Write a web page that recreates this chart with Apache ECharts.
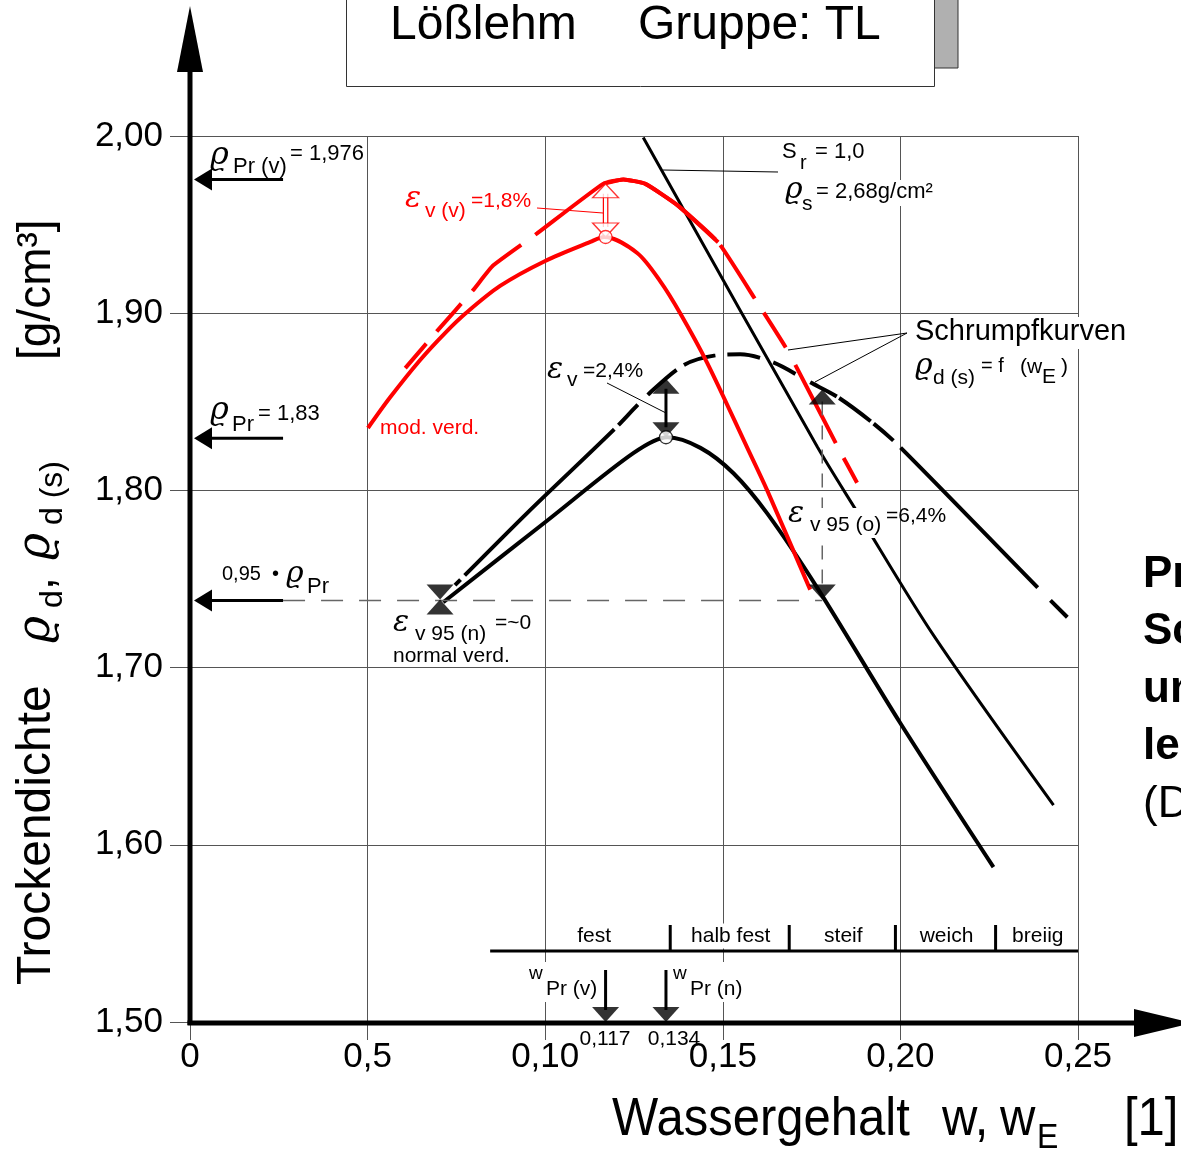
<!DOCTYPE html>
<html><head><meta charset="utf-8">
<script src="https://cdn.jsdelivr.net/npm/echarts@6/dist/echarts.min.js"></script>
<style>html,body{margin:0;padding:0;background:#fff}#c{width:1181px;height:1155px}</style>
</head><body><div id="c"></div>
<script>
// ---------------- data ----------------
const xTickValues = [0, 0.05, 0.10, 0.15, 0.20, 0.25];
const xTickLabels = ['0', '0,5', '0,10', '0,15', '0,20', '0,25'];
const yTickValues = [1.5, 1.6, 1.7, 1.8, 1.9, 2.0];
const yTickLabels = ['1,50', '1,60', '1,70', '1,80', '1,90', '2,00'];

// modified Proctor curve (red, solid)
const modW   = [0.0501, 0.0563, 0.0648, 0.0718, 0.0777, 0.0873, 0.1000, 0.1127, 0.1166, 0.1259, 0.1324, 0.1380, 0.1456, 0.1569, 0.1625, 0.1746];
const modRho = [1.8352, 1.8524, 1.8736, 1.8888, 1.9001, 1.9154, 1.9295, 1.9402, 1.943, 1.934, 1.918, 1.900, 1.872, 1.824, 1.800, 1.744];
// shrinkage curve of modified compaction (red, dashed)
const modShrW   = [0.0606, 0.0696, 0.0797, 0.0854, 0.0977, 0.1163, 0.1220, 0.1282, 0.1372, 0.1487, 0.1597, 0.1685, 0.1825, 0.1887];
const modShrRho = [1.869, 1.890, 1.913, 1.927, 1.945, 1.973, 1.9755, 1.973, 1.961, 1.940, 1.906, 1.878, 1.824, 1.801];
const modShrSolidFrom = 5, modShrSolidTo = 9;
// normal Proctor curve (black, solid)
const norW   = [0.0713, 0.1006, 0.1248, 0.1344, 0.1437, 0.1530, 0.1625, 0.1766, 0.2000, 0.2262];
const norRho = [1.7369, 1.783, 1.821, 1.830, 1.824, 1.8097, 1.787, 1.745, 1.6686, 1.5874];
// shrinkage curve of normal compaction (black, dashed)
const norShrW   = [0.0746, 0.0949, 0.1192, 0.1287, 0.1389, 0.1479, 0.1549, 0.1642, 0.1746, 0.1825, 0.1924, 0.2000, 0.2386, 0.2470];
const norShrRho = [1.7465, 1.7872, 1.834, 1.8536, 1.8706, 1.8762, 1.8768, 1.8722, 1.861, 1.8525, 1.8378, 1.8243, 1.7453, 1.7284];
// saturation line Sr = 1,0
const satW   = [0.1276, 0.1766, 0.1879, 0.2093, 0.2431];
const satRho = [1.9992, 1.8246, 1.7876, 1.7183, 1.6224];

// key values
const rhoPrV = 1.976, rhoPrN = 1.83, rhoModPeak = 1.943;
const wPrV = 0.117, wPrN = 0.134;
const rho95 = 1.7385;              // 0,95 * rhoPr
const wBowtie = 0.0704;
const wEpsO = 0.178, rhoEpsOTop = 1.857;
const rhoShrAtPrV = 1.973, rhoShrAtPrN = 1.863;
const arrowTailW = 0.0262;
const consLimits = [0.0845, 0.1352, 0.1687, 0.1986, 0.2268, 0.25];
const consNames = ['fest', 'halb fest', 'steif', 'weich', 'breiig'];

// ---------------- chart ----------------
const F = "'Liberation Sans', Arial, sans-serif";
const G = "'DejaVu Serif', serif";
const chart = echarts.init(document.getElementById('c'), null, {renderer: 'canvas'});
const pts = (ws, rs) => ws.map((w, i) => [w, rs[i]]);
const lab = (vals, labels) => v => { const i = vals.findIndex(t => Math.abs(t - v) < 1e-6); return i < 0 ? '' : labels[i]; };

const filledTri = (w, r, up) => ({value: [w, r], symbol: 'triangle', symbolSize: [27, 15], symbolRotate: up ? 0 : 180,
  symbolOffset: [0, up ? 7.5 : -7.5], itemStyle: {color: '#000'}});
const openTri = (w, r, up) => ({value: [w, r], symbol: 'triangle', symbolSize: [26, 14], symbolRotate: up ? 0 : 180,
  symbolOffset: [0, up ? 7 : -7], itemStyle: {color: '#fff', borderColor: '#f00', borderWidth: 1.3}});

const blackDash = [8, 6, 209, 6, 28, 14, 38, 9, 33, 12, 33, 14, 25, 17, 30, 3, 39, 4, 26, 10, 196, 18, 30, 40];
const redDash = [32, 16, 37, 17, 68, 17, 218, 8, 63, 17, 41, 20, 88, 17, 28, 40];

const option = {
  animation: false,
  backgroundColor: '#fff',
  grid: {left: 190, right: 103, top: 136, bottom: 133, containLabel: false},
  xAxis: {type: 'value', min: 0, max: 0.25, interval: 0.05,
    axisLine: {show: false},
    axisTick: {show: true, length: 18, lineStyle: {color: '#555', width: 1}},
    splitLine: {show: true, lineStyle: {color: '#555', width: 1}},
    axisLabel: {margin: 18, fontSize: 35, fontFamily: F, color: '#000', showMinLabel: true, showMaxLabel: true,
      formatter: lab(xTickValues, xTickLabels)}},
  yAxis: {type: 'value', min: 1.5, max: 2.0, interval: 0.1,
    axisLine: {show: false},
    axisTick: {show: true, length: 20, lineStyle: {color: '#555', width: 1}},
    splitLine: {show: true, lineStyle: {color: '#555', width: 1}},
    axisLabel: {margin: 27, fontSize: 35, fontFamily: F, color: '#000', showMinLabel: true, showMaxLabel: true,
      formatter: lab(yTickValues, yTickLabels)}},
  series: [
    {name: 'Sr=1,0', type: 'line', data: pts(satW, satRho), smooth: 0.3, symbol: 'none',
      lineStyle: {color: '#000', width: 3}, z: 3},
    {name: 'Schrumpfkurve normal', type: 'line', data: pts(norShrW, norShrRho), smooth: 0.3, symbol: 'none',
      lineStyle: {color: '#000', width: 4, type: blackDash, cap: 'butt'}, z: 3},
    {name: 'Proctor normal', type: 'line', data: pts(norW, norRho), smooth: 0.3, symbol: 'none',
      lineStyle: {color: '#000', width: 4}, z: 3},
    {name: 'Schrumpfkurve mod.', type: 'line', data: pts(modShrW, modShrRho), smooth: 0.15, symbol: 'none',
      lineStyle: {color: '#ff0000', width: 4, type: redDash, cap: 'butt'}, z: 4},
    {name: 'Schrumpfkurve mod. (solid)', type: 'line',
      data: pts(modShrW, modShrRho).slice(modShrSolidFrom, modShrSolidTo + 1), smooth: 0.15, symbol: 'none',
      lineStyle: {color: '#ff0000', width: 4}, z: 4},
    {name: 'Proctor mod.', type: 'line', data: pts(modW, modRho), smooth: 0.3, symbol: 'none',
      lineStyle: {color: '#ff0000', width: 4}, z: 4},
    {name: 'markers', type: 'scatter', z: 8, data: [
      openTri(wPrV, rhoShrAtPrV, true), openTri(wPrV, rhoModPeak, false),
      {value: [wPrV, rhoModPeak], symbol: 'circle', symbolSize: 13, itemStyle: {color: '#fff', borderColor: '#f00', borderWidth: 1.3}},
      filledTri(wPrN, rhoShrAtPrN, true), filledTri(wPrN, rhoPrN, false),
      {value: [wPrN, rhoPrN], symbol: 'circle', symbolSize: 13, itemStyle: {color: '#fff', borderColor: '#000', borderWidth: 1.3}},
      filledTri(wEpsO, rhoEpsOTop, true), filledTri(wEpsO, rho95, false),
      filledTri(wBowtie, rho95, false), filledTri(wBowtie, rho95, true),
      filledTri(wPrV, 1.5, false), filledTri(wPrN, 1.5, false)
    ]}
  ]
};
chart.setOption(option);

// ---------------- annotations ----------------
const P = (w, r) => chart.convertToPixel({gridIndex: 0}, [w, r]);
function T(x, y, text, size, o) {
  o = o || {};
  const st = {text, x: 0, y: 0, fontSize: size, fontFamily: o.ff || F, fontStyle: o.it ? 'italic' : 'normal',
    fontWeight: o.b ? 'bold' : 'normal', fill: o.c || '#000',
    align: o.al || 'left', textAlign: o.al || 'left', verticalAlign: 'middle', textVerticalAlign: 'middle'};
  if (o.bg) { st.backgroundColor = '#fff'; st.padding = o.pad || [1, 2]; }
  return {type: 'text', x, y, rotation: o.rot || 0, scaleX: o.sx || 1, scaleY: o.sy || 1, z: o.z || 120, silent: true, style: st};
}
const L = (x1, y1, x2, y2, c, w, dash, z) => ({type: 'line', silent: true, z: z || 60,
  shape: {x1, y1, x2, y2}, style: {stroke: c, lineWidth: w, lineDash: dash || null}});
const poly = (points, c, z) => ({type: 'polygon', silent: true, z: z || 60, shape: {points}, style: {fill: c}});
const rectW = (x, y, w, h, z) => ({type: 'rect', silent: true, z: z || 110, shape: {x, y, width: w, height: h}, style: {fill: '#fff'}});

const g = [];
const [x0, yB] = P(0, 1.5);
// title box
g.push({type: 'rect', silent: true, z: 100, shape: {x: 934, y: -2, width: 24, height: 70}, style: {fill: '#b0b0b0', stroke: '#333', lineWidth: 1}});
g.push({type: 'rect', silent: true, z: 101, shape: {x: 346.5, y: -2, width: 588, height: 88.5}, style: {fill: '#fff', stroke: '#333', lineWidth: 1}});
g.push(T(390, 26, 'Lößlehm', 48, {z: 102}));
g.push(T(638, 26, 'Gruppe: TL', 48, {z: 102}));

// axes with arrows
g.push(L(x0, yB + 3, x0, 62, '#000', 5, null, 70));
g.push(poly([[x0, 6], [x0 - 13, 72], [x0 + 13, 72]], '#000', 70));
g.push(L(x0 - 2.5, yB + 1, 1140, yB + 1, '#000', 5, null, 70));
g.push(poly([[1192, yB + 1], [1134, yB - 13], [1134, yB + 15]], '#000', 70));

// arrows to the y axis
[rhoPrV, rhoPrN, rho95].forEach(r => {
  const y = P(0, r)[1] + 1;
  const xt = P(arrowTailW, r)[0];
  g.push(L(xt, y, x0 + 16, y, '#000', 3));
  g.push(poly([[x0 + 4, y], [x0 + 22, y - 11], [x0 + 22, y + 11]], '#000'));
});
// 0,95*rhoPr dashed line
{
  const y = P(0, rho95)[1] + 1;
  g.push(L(P(arrowTailW, rho95)[0], y, P(wEpsO, rho95)[0], y, '#666', 1.5, [22, 16], 5));
}
// eps v95(o) dashed vertical
{
  const a = P(wEpsO, rhoEpsOTop), b = P(wEpsO, rho95);
  g.push(L(a[0], a[1] + 12, b[0], b[1] - 12, '#666', 1.5, [14, 10], 5));
}
// eps v arrow shaft (black)
{
  const a = P(wPrN, rhoShrAtPrN), b = P(wPrN, rhoPrN);
  g.push(L(a[0], a[1] + 10, b[0], b[1] - 10, '#000', 3, null, 7));
}
// eps v(v) double shaft (red)
{
  const a = P(wPrV, rhoShrAtPrV), b = P(wPrV, rhoModPeak);
  g.push(L(a[0] - 2.2, a[1] + 10, b[0] - 2.2, b[1] - 10, '#f00', 1.2, null, 7));
  g.push(L(a[0] + 2.2, a[1] + 10, b[0] + 2.2, b[1] - 10, '#f00', 1.2, null, 7));
}
// wPr arrows
[wPrV, wPrN].forEach(w => {
  const x = P(w, 1.5)[0];
  g.push(L(x, yB - 52, x, yB - 12, '#000', 3, null, 70));
});

// consistency bar
{
  const yC = yB - 71;
  g.push(L(P(consLimits[0], 1.5)[0], yC, P(consLimits[consLimits.length - 1], 1.5)[0], yC, '#000', 3, null, 70));
  for (let i = 1; i < consLimits.length - 1; i++) {
    const x = P(consLimits[i], 1.5)[0];
    g.push(L(x, yC - 26, x, yC, '#000', 3, null, 70));
  }
  for (let i = 0; i < consNames.length; i++) {
    const xm = (P(consLimits[i], 1.5)[0] + P(consLimits[i + 1], 1.5)[0]) / 2;
    g.push(T(xm + (i === 0 ? 14 : 1), yC - 15, consNames[i], 21, {al: 'center', bg: true, pad: [2, 4]}));
  }
}
// wPr labels
g.push(rectW(525, 962, 76, 40));
g.push(rectW(670, 962, 76, 40));
g.push(T(529, 974, 'w', 19));
g.push(T(546, 989, 'Pr (v)', 21));
g.push(T(673, 974, 'w', 19));
g.push(T(690, 989, 'Pr (n)', 21));
g.push(T(605, 1039, '0,117', 21, {al: 'center'}));
g.push(T(674, 1039, '0,134', 21, {al: 'center'}));

// left labels
g.push(T(210, 156, 'ϱ', 32, {ff: G, it: true}));
g.push(T(233, 167, 'Pr (v)', 22));
g.push(T(290, 154, '= 1,976', 22));
g.push(T(210, 411, 'ϱ', 32, {ff: G, it: true}));
g.push(T(232, 425, 'Pr', 22));
g.push(T(258, 414, '= 1,83', 22));
g.push(T(222, 574, '0,95', 20));
g.push(T(272, 574, '•', 20));
g.push(T(286, 574, 'ϱ', 30, {ff: G, it: true}));
g.push(T(307, 587, 'Pr', 22));

// red labels
g.push(T(405, 199, 'ε', 30, {ff: G, it: true, c: '#f00'}));
g.push(T(425, 211, 'v (v)', 21, {c: '#f00'}));
g.push(T(471, 201, '=1,8%', 21, {c: '#f00'}));
g.push(L(537, 208, 603, 213, '#f00', 1, null, 9));
g.push(T(380, 428, 'mod. verd.', 21, {c: '#f00'}));

// eps labels
g.push(T(547, 370, 'ε', 30, {ff: G, it: true}));
g.push(T(567, 380, 'v', 21));
g.push(T(583, 371, '=2,4%', 21));
g.push(L(607, 383, 666, 413, '#000', 1, null, 9));
g.push(T(393, 623, 'ε', 30, {ff: G, it: true}));
g.push(T(415, 634, 'v 95 (n)', 21));
g.push(T(495, 623, '=~0', 21));
g.push(T(393, 656, 'normal verd.', 21));
g.push(rectW(808, 508, 76, 30));
g.push(T(788, 514, 'ε', 30, {ff: G, it: true}));
g.push(T(810, 525, 'v 95 (o)', 21));
g.push(T(886, 516, '=6,4%', 21));

// Sr label
g.push(L(663, 170, 778, 172, '#000', 1, null, 9));
g.push(T(782, 152, 'S', 22));
g.push(T(800, 163, 'r', 20));
g.push(T(815, 152, '= 1,0', 22));
g.push(rectW(814, 180, 124, 26));
g.push(T(785, 190, 'ϱ', 30, {ff: G, it: true}));
g.push(T(802, 204, 's', 21));
g.push(T(816, 192, '= 2,68g/cm²', 22));

// Schrumpfkurven
g.push(rectW(912, 317, 222, 32));
g.push(T(915, 332, 'Schrumpfkurven', 29));
g.push(L(907, 333, 788, 350, '#000', 1, null, 9));
g.push(L(907, 333, 815, 382, '#000', 1, null, 9));
g.push(T(915, 366, 'ϱ', 30, {ff: G, it: true}));
g.push(T(933, 378, 'd (s)', 21));
g.push(T(981, 366, '= f', 20));
g.push(T(1020, 367, '(w', 21));
g.push(T(1042, 377, 'E', 21));
g.push(T(1061, 367, ')', 21));

// right side text (cut off)
g.push(T(1143, 575, 'Pr', 44, {b: true}));
g.push(T(1143, 632, 'Sc', 44, {b: true}));
g.push(T(1143, 690, 'un', 44, {b: true}));
g.push(T(1143, 747, 'le', 44, {b: true}));
g.push(T(1143, 805, '(D', 44));

// axis titles
const R = Math.PI / 2;
g.push(T(37, 985, 'Trockendichte', 48, {rot: R}));
g.push(T(37, 643, 'ϱ', 46, {rot: R, ff: G, it: true}));
g.push(T(53, 608, 'd', 32, {rot: R}));
g.push(T(40, 590, ',', 46, {rot: R}));
g.push(T(37, 560, 'ϱ', 46, {rot: R, ff: G, it: true}));
g.push(T(53, 525, 'd (s)', 32, {rot: R}));
g.push(T(37, 360, '[g/cm³]', 46, {rot: R}));

g.push(T(612, 1120, 'Wassergehalt', 49, {sy: 1.08}));
g.push(T(942, 1120, 'w,', 49, {sy: 1.08}));
g.push(T(1000, 1120, 'w', 49, {sy: 1.08}));
g.push(T(1037, 1138, 'E', 32, {sy: 1.08}));
g.push(T(1124, 1120, '[1]', 49, {sy: 1.08}));

chart.setOption({graphic: {elements: g}});
</script>
</body></html>
